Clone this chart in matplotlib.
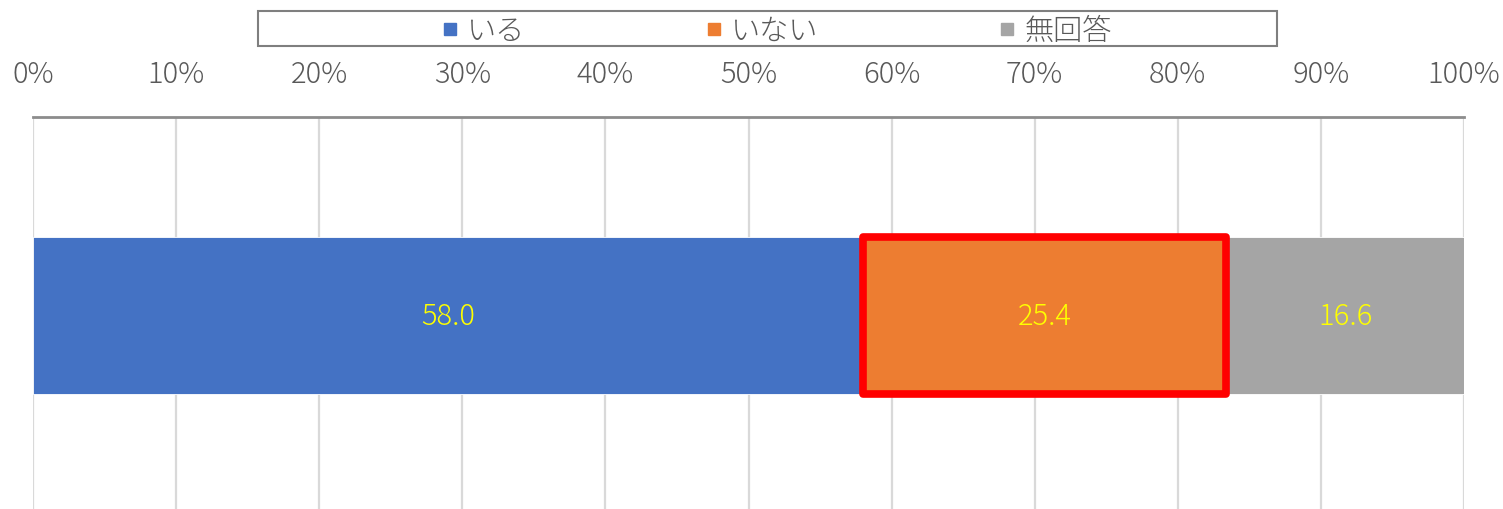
import matplotlib
matplotlib.use("Agg")
import matplotlib.pyplot as plt
from matplotlib.lines import Line2D
from matplotlib.patches import Rectangle

plt.rcParams['font.family'] = ['Noto Sans CJK JP', 'DejaVu Sans']

categories = ["いる", "いない", "無回答"]
values = [58.0, 25.4, 16.6]
colors = ["#4472C4", "#ED7D31", "#A5A5A5"]
tick_values = list(range(0, 101, 10))
tick_labels = [f"{v}%" for v in tick_values]
highlight_index = 1

W, H = 1503, 510
fig = plt.figure(figsize=(W / 100, H / 100), dpi=100)
ax = fig.add_axes([33 / W, 0.0, (1464 - 33) / W, 1 - 118 / H])

left = 0.0
lefts = []
for v, c in zip(values, colors):
    ax.barh(0, v, left=left, height=1.0, color=c, edgecolor="white", linewidth=0.6, zorder=2)
    ax.text(left + v / 2, 0, f"{v:.1f}", ha="center", va="center", color="#FFFF00",
            fontsize=21, fontweight="light", zorder=4)
    lefts.append(left)
    left += v

# highlight box around the selected segment
hl = Rectangle((lefts[highlight_index], -0.5), values[highlight_index], 1.0, fill=False,
               edgecolor="#FF0000", linewidth=5.5, joinstyle="round", zorder=5)
ax.add_patch(hl)

ax.set_xlim(0, 100)
ax.set_ylim(-1.232, 1.264)
ax.xaxis.tick_top()
ax.set_xticks(tick_values)
ax.set_xticklabels(tick_labels, fontweight="light")
ax.tick_params(axis="x", length=0, pad=20, labelsize=21, labelcolor="#595959")
ax.set_yticks([])
ax.grid(axis="x", color="#D9D9D9", linewidth=1.6, zorder=0)
ax.set_axisbelow(True)
for s in ["left", "right", "bottom"]:
    ax.spines[s].set_visible(False)
ax.spines["top"].set_color("#8C8C8C")
ax.spines["top"].set_linewidth(2.0)

# legend
handles = [Line2D([], [], marker="s", linestyle="none", markersize=9,
                  markerfacecolor=c, markeredgecolor=c) for c in colors]
fig.legend(handles, categories, loc="center", bbox_to_anchor=(777 / W, 1 - 32 / H),
           ncol=3, frameon=False, prop={"size": 21, "weight": "light"}, labelcolor="#595959",
           handlelength=0.5, handletextpad=0.35, columnspacing=6.2, borderpad=0)
frame = Rectangle((258 / W, 1 - 47 / H), (1277 - 258) / W, 35 / H, transform=fig.transFigure,
                  fill=False, edgecolor="#7F7F7F", linewidth=1.5)
fig.add_artist(frame)

fig.savefig("out.png", dpi=100)
